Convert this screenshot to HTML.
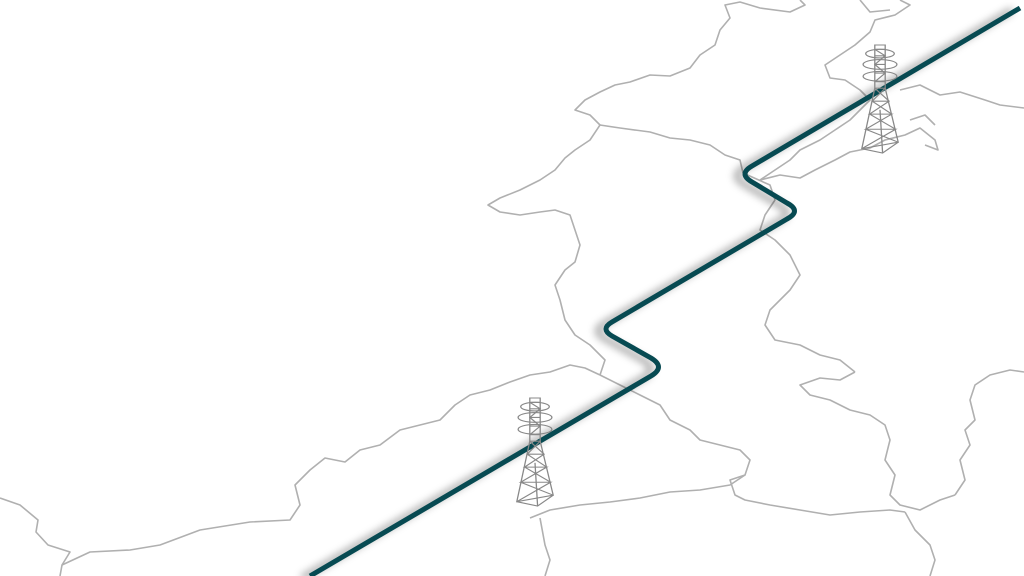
<!DOCTYPE html>
<html><head><style>html,body{margin:0;padding:0;background:#fff;width:1024px;height:576px;overflow:hidden}</style></head>
<body>
<svg width="1024" height="576" viewBox="0 0 1024 576" xmlns="http://www.w3.org/2000/svg">
<defs>
<filter id="sh" x="-20%" y="-20%" width="140%" height="140%"><feGaussianBlur stdDeviation="4"/></filter>
<g id="tower" fill="none" stroke="#888" stroke-width="1">
<path d="M-4,0 L4,0 L4,40 L14,90 L-14,96 L-4,40 Z"/>
<path d="M-4,40 L4,40 M-6,52 L7,52 M-8,64 L9,64 M-11,78 L12,78 M-4,40 L7,52 L-8,64 L9,64 L-11,78 L12,78 L-14,96 M4,40 L-6,52 L9,64 M-8,64 L12,78 M-11,78 L14,90 M-14,96 L2,100 L14,90 M2,100 L0,60"/>
<path d="M-4,4 L4,4 M-4,10 L4,10 M-4,18 L4,18 M-4,26 L4,26 M-4,34 L4,34 M-4,4 L4,10 L-4,18 L4,26 L-4,34"/>
<ellipse cx="0" cy="8" rx="11" ry="4"/><ellipse cx="0" cy="18" rx="13" ry="4.5"/><ellipse cx="0" cy="29" rx="13" ry="4.5"/>
</g>
</defs>
<g fill="none" stroke="#b0b0b0" stroke-width="1.6" stroke-linejoin="round">
<path d="M0,498 L20,505 L38,520 L36,532 L48,545 L70,552 L62,565 L60,576"/>
<path d="M62,565 L90,552 L130,550 L160,545 L200,530 L250,522 L290,520 L300,505 L295,485 L310,470 L325,458 L345,462 L360,450 L380,445 L400,430 L420,425 L440,420 L455,405 L470,395 L490,390 L510,382 L530,375 L550,372 L570,365 L585,368 L600,375"/>
<path d="M600,375 L605,360 L590,345 L575,335 L565,320 L560,300 L555,285 L565,270 L575,262 L580,245 L575,230 L570,215 L555,210 L540,212 L520,215 L500,212 L488,205 L500,198 L520,190 L540,180 L555,170 L565,158 L575,150 L590,140 L600,125 L590,115 L575,110 L585,100 L600,92 L615,85 L630,82 L650,75 L670,76 L690,68 L700,55 L715,45 L720,30 L730,18 L725,5 L740,2 L760,8 L790,12 L805,5 L800,0"/>
<path d="M600,125 L620,128 L650,132 L670,138 L690,140 L710,145 L725,155 L740,160 L743,173"/>
<path d="M743,173 L770,185 L775,200 L765,215 L760,230 L775,240 L790,255 L800,275 L790,290 L780,300 L770,310 L765,325 L775,340 L800,345 L820,355 L840,360 L855,372"/>
<path d="M855,372 L840,380 L820,378 L800,385 L810,395 L830,400 L850,410 L870,415 L885,425 L890,440 L885,460 L895,475 L890,495 L900,505 L920,510 L940,500 L955,495"/>
<path d="M600,375 L620,385 L640,395 L660,405 L670,420 L690,430 L700,440 L720,445 L740,450 L750,460 L745,475 L730,480 L735,495 L745,500 L770,505 L800,510 L830,515 L860,512 L890,510 L905,512"/>
<path d="M530,518 L550,510 L580,505 L610,502 L640,498 L670,492 L700,490 L730,485 L745,475"/>
<path d="M540,518 L545,545 L550,560 L545,576"/>
<path d="M905,512 L915,530 L930,545 L935,560 L930,576"/>
<path d="M955,495 L965,480 L960,460 L970,445 L965,430 L975,420 L970,400 L975,385 L990,375 L1010,370 L1024,372"/>
<path d="M760,180 L775,170 L790,160 L800,150 L820,140 L835,130 L850,120 L860,110 L870,100 L860,90 L845,80 L830,78 L825,65 L840,55 L855,45 L870,32 L875,20 L895,15 L910,5 L900,0"/>
<path d="M760,180 L780,175 L800,178 L815,170 L835,160 L850,152 L870,148 L885,140 L905,135 L920,128 L935,140 L938,150 L925,145"/>
<path d="M900,90 L920,85 L940,95 L960,92 L985,100 L1000,105 L1024,108"/>
<path d="M910,120 L925,115 L935,125"/>
<path d="M860,0 L870,12 L890,10"/>
</g>
<path d="M310,576 L651,376 Q666,367 651,358 L612,336 Q600,329 612,322 L787,219 Q802,211 787,203 L752,182 Q738,174 752,166 L1020,8" fill="none" stroke="#000" stroke-opacity="0.35" stroke-width="6" filter="url(#sh)" transform="translate(-8,2)"/>
<path d="M310,576 L651,376 Q666,367 651,358 L612,336 Q600,329 612,322 L787,219 Q802,211 787,203 L752,182 Q738,174 752,166 L1020,8" fill="none" stroke="#074a52" stroke-width="5" stroke-linejoin="round"/>
<use href="#tower" transform="translate(535,398) scale(1.3,1.08)"/>
<use href="#tower" transform="translate(880,45) scale(1.3,1.08)"/>
</svg>
</body></html>
